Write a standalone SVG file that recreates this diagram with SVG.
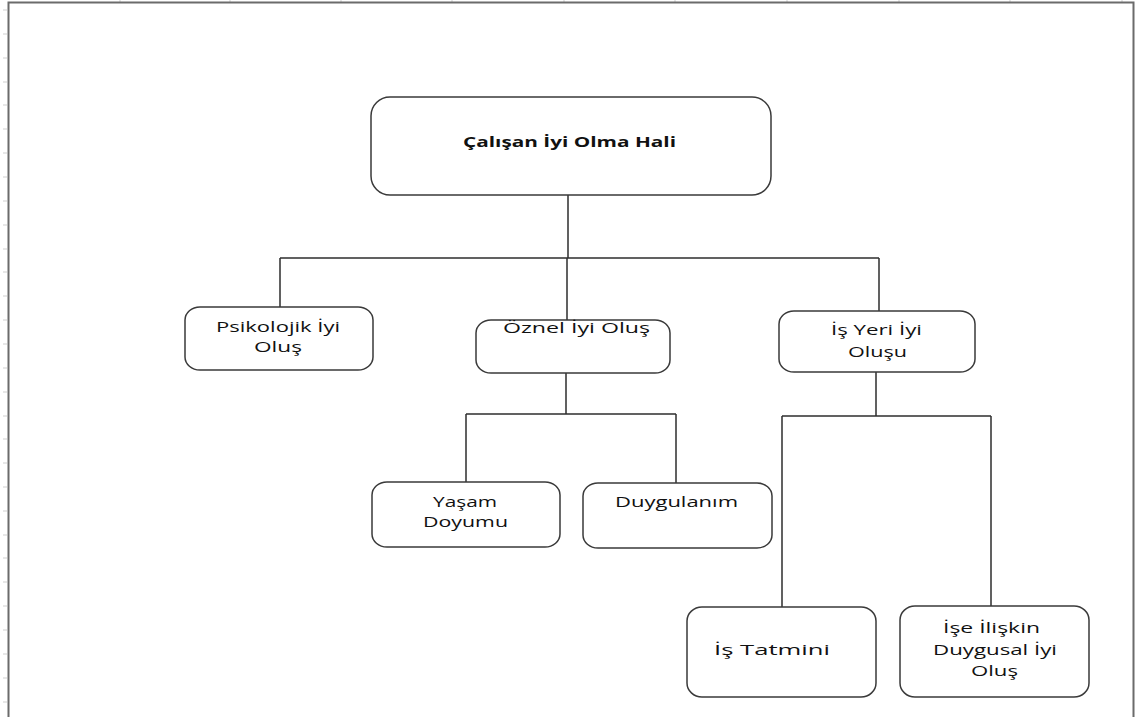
<svg xmlns="http://www.w3.org/2000/svg" width="1135" height="717" viewBox="0 0 1135 717">
<style>
.frame{stroke:#6b6b6b;stroke-width:2;fill:none}
.tick{stroke:#cfcfcf;stroke-width:1}
.box{fill:#fff;stroke:#3a3a3a;stroke-width:1.5}
.conn{stroke:#2e2e2e;stroke-width:1.5;fill:none}
text{font-family:"Open Sans","Liberation Sans",sans-serif;font-size:15px;fill:#111;text-anchor:start}
.b{font-weight:bold}
</style>
<rect width="1135" height="717" fill="#fff"/>
<g id="ticks" class="tick">
<path d="M120 0V2M230 0V2M341 0V2M452 0V2M564 0V2M675 0V2M787 0V2M899 0V2M1010 0V2M1122 0V2"/>
<path d="M3 10H7M3 34H7M3 58H7M3 82H7M3 105H7M3 129H7M3 153H7M3 177H7M3 201H7M3 225H7M3 249H7M3 272H7M3 296H7M3 320H7M3 344H7M3 368H7M3 392H7M3 416H7M3 439H7M3 463H7M3 487H7M3 511H7M3 535H7M3 558H7M3 582H7M3 606H7M3 630H7M3 654H7M3 678H7M3 702H7"/>
</g>
<g id="frame" class="frame">
<path d="M8.5 717V2.5H1133.5V717"/>
</g>
<g id="connectors" class="conn">
<path d="M568 195V258M280 258H879M280 258V307M567 258V320M879 258V311"/>
<path d="M566 373V414M466 414H676M466 414V482M676 414V483"/>
<path d="M876 372V416M782 416H991M782 416V607M991 416V606"/>
</g>
<g id="n_root">
<rect class="box" x="371" y="97" width="400" height="98" rx="19" ry="19"/>
<text class="b" x="463" y="147" textLength="213" lengthAdjust="spacingAndGlyphs">Çalışan İyi Olma Hali</text>
</g>
<g id="n_psikolojik">
<rect class="box" x="185" y="307" width="188" height="63" rx="15" ry="13"/>
<text x="216" y="332" textLength="124" lengthAdjust="spacingAndGlyphs">Psikolojik İyi</text>
<text x="254" y="352" textLength="48" lengthAdjust="spacingAndGlyphs">Oluş</text>
</g>
<g id="n_oznel">
<rect class="box" x="476" y="320" width="194" height="53" rx="15" ry="13"/>
<text x="503" y="333" textLength="147" lengthAdjust="spacingAndGlyphs">Öznel İyi Oluş</text>
</g>
<g id="n_isyeri">
<rect class="box" x="779" y="311" width="196" height="61" rx="15" ry="13"/>
<text x="831" y="335" textLength="91" lengthAdjust="spacingAndGlyphs">İş Yeri İyi</text>
<text x="848" y="357" textLength="59" lengthAdjust="spacingAndGlyphs">Oluşu</text>
</g>
<g id="n_yasam">
<rect class="box" x="372" y="482" width="188" height="65" rx="15" ry="13"/>
<text x="433" y="507" textLength="64" lengthAdjust="spacingAndGlyphs">Yaşam</text>
<text x="423" y="527" textLength="85" lengthAdjust="spacingAndGlyphs">Doyumu</text>
</g>
<g id="n_duygulanim">
<rect class="box" x="583" y="483" width="189" height="65" rx="15" ry="13"/>
<text x="615" y="507" textLength="123" lengthAdjust="spacingAndGlyphs">Duygulanım</text>
</g>
<g id="n_istatmini">
<rect class="box" x="687" y="607" width="189" height="90" rx="15" ry="14"/>
<text x="714" y="655" textLength="116" lengthAdjust="spacingAndGlyphs">İş Tatmini</text>
</g>
<g id="n_iseiliskin">
<rect class="box" x="900" y="606" width="189" height="91" rx="15" ry="14"/>
<text x="943" y="633" textLength="97" lengthAdjust="spacingAndGlyphs">İşe İlişkin</text>
<text x="933" y="655" textLength="124" lengthAdjust="spacingAndGlyphs">Duygusal İyi</text>
<text x="971" y="676" textLength="47" lengthAdjust="spacingAndGlyphs">Oluş</text>
</g>
</svg>
